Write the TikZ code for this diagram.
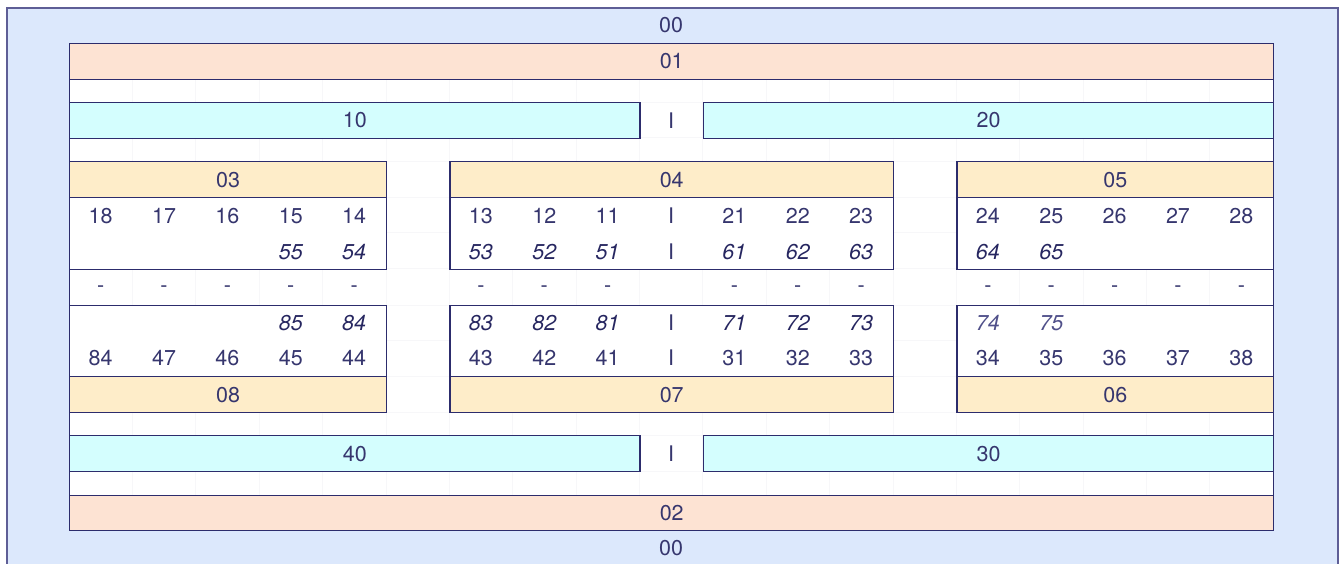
\documentclass[tikz,border=0pt]{standalone}
\usepackage{fontspec}
\setmainfont{TeX Gyre Heros}
\definecolor{outerfill}{HTML}{DCE8FC}
\definecolor{outerline}{HTML}{5E5E96}
\definecolor{navy}{HTML}{2C2C6C}
\definecolor{txt}{HTML}{36366E}
\definecolor{txtitl}{HTML}{262660}
\definecolor{txtlight}{HTML}{50508A}
\definecolor{peachf}{HTML}{FDE3D3}
\definecolor{cyanf}{HTML}{D4FEFE}
\definecolor{yellf}{HTML}{FEEDC9}
\definecolor{gridc}{HTML}{D6D6E2}
\newcommand\cw{63.37}
\newcommand\boxn[7]{\node[box, fill=#6, minimum width={#4pt-#2pt}, minimum height={#5pt-#3pt}] (#1) at (#2,#3) {#7};}
\begin{document}
\begin{tikzpicture}[x=1pt,y=-1pt,
  box/.style={draw=navy, line width=1.4pt, inner sep=0pt, anchor=north west, text=txt, font=\fontsize{21.5}{21.5}\selectfont},
  lbl/.style={text=txt, font=\fontsize{21.5}{21.5}\selectfont, inner sep=0pt, anchor=center},
  itl/.style={lbl, text=txtitl, font=\fontsize{21.5}{21.5}\selectfont\itshape},
  itlight/.style={itl, text=txtlight},
  gridline/.style={draw=gridc, line width=0.6pt, opacity=0.18}]
\useasboundingbox (0,0) rectangle (1340,563);
\clip (0,0) rectangle (1340,563);
% outer frame
\node[draw=outerline, fill=outerfill, line width=2pt, inner sep=0pt, anchor=north west,
      minimum width=1331pt, minimum height=580pt] (outer) at (5.6,7) {};
\node[lbl] (top00) at (671,25) {00};
\node[lbl] (bot00) at (671,548) {00};
% inner region
\boxn{inner}{69}{43}{1273}{530}{white}{}
% faint grid
\foreach \i in {1,...,18} \draw[gridline] ({69+\i*\cw},43) -- ({69+\i*\cw},530);
\foreach \y in {78.5,102,137.5,161,197,232.5,268.5,305,340.5,376,412,435,471,495}
  \draw[gridline] (69,\y) -- (1273,\y);
% bands
\boxn{b01}{69}{43}{1273}{78.5}{peachf}{01}
\boxn{b02}{69}{495}{1273}{530}{peachf}{02}
\boxn{b10}{69}{102}{639.3}{137.5}{cyanf}{10}
\boxn{b20}{702.7}{102}{1273}{137.5}{cyanf}{20}
\boxn{b40}{69}{435}{639.3}{471}{cyanf}{40}
\boxn{b30}{702.7}{435}{1273}{471}{cyanf}{30}
\node[lbl] (sepA) at (671,121) {I};
\node[lbl] (sepB) at (671,454) {I};
% blocks
\boxn{b03}{69}{161}{385.85}{197}{yellf}{03}
\boxn{b04}{449.2}{161}{892.8}{197}{yellf}{04}
\boxn{b05}{956.2}{161}{1273}{197}{yellf}{05}
\boxn{u03}{69}{197}{385.85}{268.5}{white}{}
\boxn{u04}{449.2}{197}{892.8}{268.5}{white}{}
\boxn{u05}{956.2}{197}{1273}{268.5}{white}{}
\boxn{l08}{69}{305}{385.85}{376}{white}{}
\boxn{l07}{449.2}{305}{892.8}{376}{white}{}
\boxn{l06}{956.2}{305}{1273}{376}{white}{}
\boxn{b08}{69}{376}{385.85}{412}{yellf}{08}
\boxn{b07}{449.2}{376}{892.8}{412}{yellf}{07}
\boxn{b06}{956.2}{376}{1273}{412}{yellf}{06}
% row a
\foreach \c/\t in {0/18,1/17,2/16,3/15,4/14,6/13,7/12,8/11,9/I,10/21,11/22,12/23,14/24,15/25,16/26,17/27,18/28}
  \node[lbl] (ra\c) at ({69+(\c+0.5)*\cw},216) {\t};
% row b
\foreach \c/\t in {3/55,4/54,6/53,7/52,8/51,10/61,11/62,12/63,14/64,15/65}
  \node[itl] (rb\c) at ({69+(\c+0.5)*\cw},252) {\t};
\node[lbl] (rb9) at ({69+9.5*\cw},252) {I};
% dash row
\foreach \c in {0,1,2,3,4,6,7,8,10,11,12,14,15,16,17,18}
  \node[lbl] (rd\c) at ({69+(\c+0.5)*\cw},289) {-};
% row c
\foreach \c/\t in {3/85,4/84,6/83,7/82,8/81,10/71,11/72,12/73}
  \node[itl] (rc\c) at ({69+(\c+0.5)*\cw},323) {\t};
\foreach \c/\t in {14/74,15/75}
  \node[itlight] (rc\c) at ({69+(\c+0.5)*\cw},323) {\t};
\node[lbl] (rc9) at ({69+9.5*\cw},323) {I};
% row d
\foreach \c/\t in {0/84,1/47,2/46,3/45,4/44,6/43,7/42,8/41,9/I,10/31,11/32,12/33,14/34,15/35,16/36,17/37,18/38}
  \node[lbl] (re\c) at ({69+(\c+0.5)*\cw},358) {\t};
\end{tikzpicture}
\end{document}
